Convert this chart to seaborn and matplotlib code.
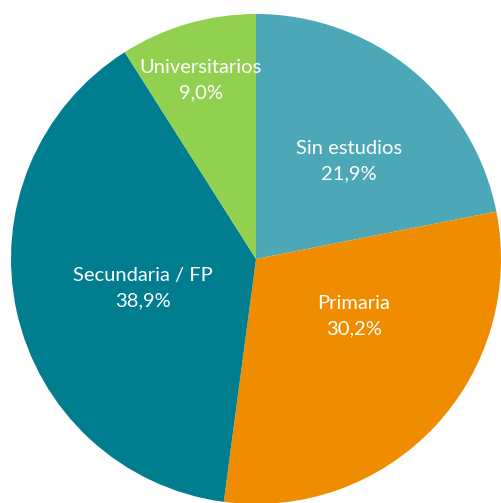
import matplotlib
matplotlib.use('Agg')
import matplotlib.pyplot as plt
import seaborn as sns

# Datos del gráfico
categorias = ['Sin estudios', 'Primaria', 'Secundaria / FP', 'Universitarios']
porcentajes = [21.9, 30.2, 38.9, 9.0]
colores = ['#4ca8b6', '#f08c00', '#007e8f', '#92d050']
# posición de las etiquetas (en unidades del radio)
pos_etiquetas = [(0.38, 0.40), (0.40, -0.235), (-0.46, -0.12), (-0.225, 0.73)]

sns.set_theme(style='white')
plt.rcParams['font.family'] = ['Lato', 'DejaVu Sans']

fig = plt.figure(figsize=(5.01, 5.03), dpi=100)
ax = fig.add_axes([11 / 501, -1 / 503, 490 / 501, 490 / 503])

ax.pie(porcentajes, colors=colores, startangle=90, counterclock=False,
       radius=1, wedgeprops={'linewidth': 0})

for cat, val, (x, y) in zip(categorias, porcentajes, pos_etiquetas):
    texto = cat + '\n' + f'{val:.1f}'.replace('.', ',') + '%'
    ax.text(x, y, texto, ha='center', va='center', color='white',
            fontsize=14.5, linespacing=1.6)

ax.set_xlim(-1, 1)
ax.set_ylim(-1, 1)
ax.set_aspect('auto')
ax.axis('off')

fig.savefig('out.png', dpi=100)
